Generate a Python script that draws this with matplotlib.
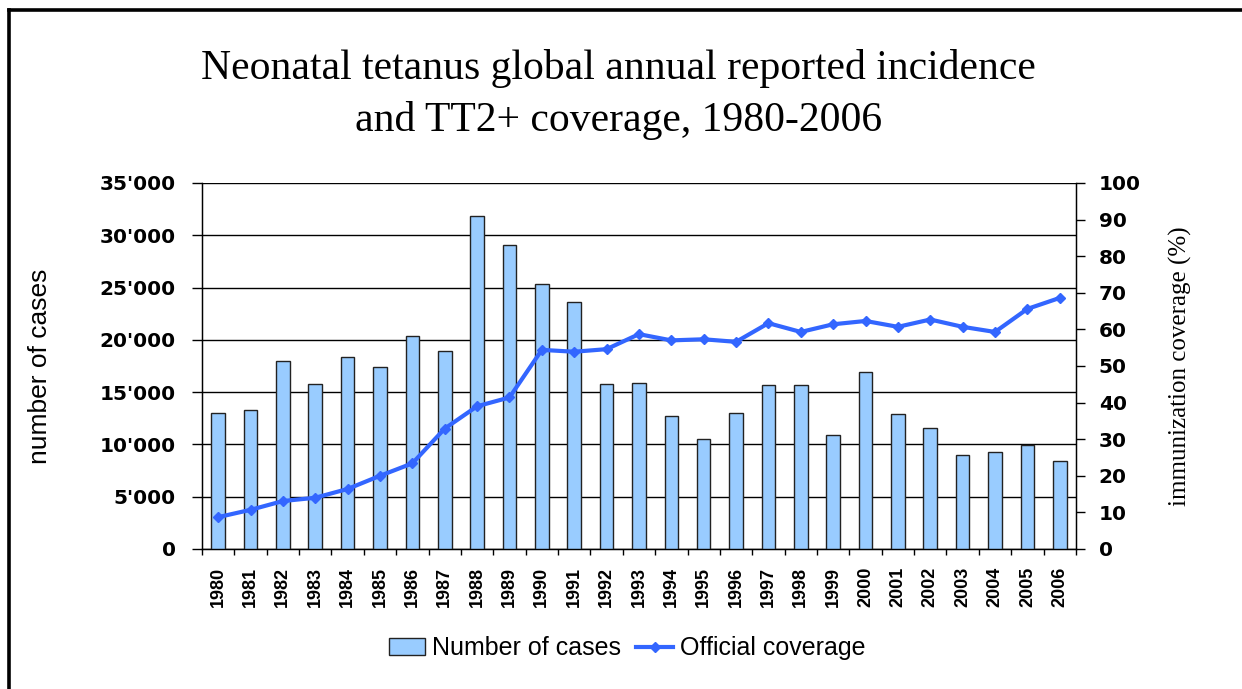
import matplotlib
matplotlib.use("Agg")
import matplotlib.pyplot as plt
from matplotlib.lines import Line2D
import numpy as np

years = [str(y) for y in range(1980, 2007)]
cases = [13000, 13300, 18000, 15800, 18400, 17400, 20400, 18900, 31800, 29100,
         25300, 23600, 15800, 15900, 12750, 10500, 13000, 15650, 15650, 10900,
         16950, 12900, 11600, 8960, 9300, 9900, 8400]
coverage = [8.7, 10.7, 13.1, 14.0, 16.4, 20.0, 23.4, 32.9, 39.0, 41.4,
            54.4, 53.9, 54.6, 58.7, 57.0, 57.3, 56.6, 61.7, 59.3, 61.4,
            62.3, 60.7, 62.7, 60.7, 59.3, 65.6, 68.6]
left_ticks = [0, 5000, 10000, 15000, 20000, 25000, 30000, 35000]
left_labels = ["0", "5'000", "10'000", "15'000", "20'000", "25'000", "30'000", "35'000"]
right_ticks = [0, 10, 20, 30, 40, 50, 60, 70, 80, 90, 100]

sans = "Liberation Sans"
wide_sans = "DejaVu Sans"
serif = "Liberation Serif"

fig = plt.figure(figsize=(12.42, 6.89), dpi=100)
ax = fig.add_axes([0.1626, 0.2032, 0.7037, 0.5312])
x = np.arange(len(years))

# bars
ax.bar(x, cases, width=0.42, color="#99CCFF", edgecolor="#222222", linewidth=1.0,
       label="Number of cases", zorder=3)
ax.set_xlim(-0.5, len(years) - 0.5)
ax.set_ylim(0, 35000)
ax.set_yticks(left_ticks)
ax.set_yticklabels(left_labels, fontfamily=wide_sans, fontweight="bold", fontsize=14.5)
ax.yaxis.grid(True, color="black", linewidth=1.0, zorder=0)
ax.set_axisbelow(True)
ax.tick_params(axis="y", direction="out", length=7, width=1, pad=12)
ax.set_xticks(x)
ax.set_xticklabels(years, rotation=90, fontfamily=sans, fontweight="bold", fontsize=13)
ax.set_xticks(np.arange(-0.5, len(years), 1), minor=True)
ax.tick_params(axis="x", which="major", length=0, pad=13)
ax.tick_params(axis="x", which="minor", direction="out", length=4, width=1)
ax.spines["top"].set_visible(False)
for s in ["left", "bottom", "right"]:
    ax.spines[s].set_linewidth(1.0)
ax.set_ylabel("number of cases", fontfamily=sans, fontsize=19)
ax.yaxis.set_label_coords(-0.171, 0.5)

# coverage line
ax2 = ax.twinx()
ax2.plot(x, coverage, color="#3366FF", linewidth=3, marker="D", markersize=5,
         label="Official coverage", zorder=4)
ax2.set_ylim(0, 100)
ax2.set_yticks(right_ticks)
ax2.set_yticklabels([str(t) for t in right_ticks], fontfamily=wide_sans,
                    fontweight="bold", fontsize=14.5)
ax2.tick_params(axis="y", direction="out", length=6.5, width=1, pad=10)
ax2.spines["top"].set_visible(False)
ax2.set_ylabel("immunization coverage (%)", fontfamily=serif, fontsize=18)
ax2.yaxis.set_label_coords(1.1065, 0.5)

# title
fig.text(0.498, 0.885, "Neonatal tetanus global annual reported incidence",
         ha="center", va="baseline", fontfamily=serif, fontsize=30)
fig.text(0.498, 0.81, "and TT2+ coverage, 1980-2006",
         ha="center", va="baseline", fontfamily=serif, fontsize=30)

# legend
h1, l1 = ax.get_legend_handles_labels()
h2, l2 = ax2.get_legend_handles_labels()
fig.legend(h1 + h2, l1 + l2, loc="center", bbox_to_anchor=(0.505, 0.059), ncol=2,
           frameon=False, prop={"family": sans, "size": 18}, handlelength=1.45,
           handletextpad=0.3, columnspacing=0.6)

# outer frame (left and top edges visible)
fig.add_artist(Line2D([0.0075, 0.0075], [0, 0.9855], transform=fig.transFigure,
                      color="black", linewidth=2.6))
fig.add_artist(Line2D([0.0075, 1], [0.9855, 0.9855], transform=fig.transFigure,
                      color="black", linewidth=2.6))

fig.savefig("out.png", dpi=100)
